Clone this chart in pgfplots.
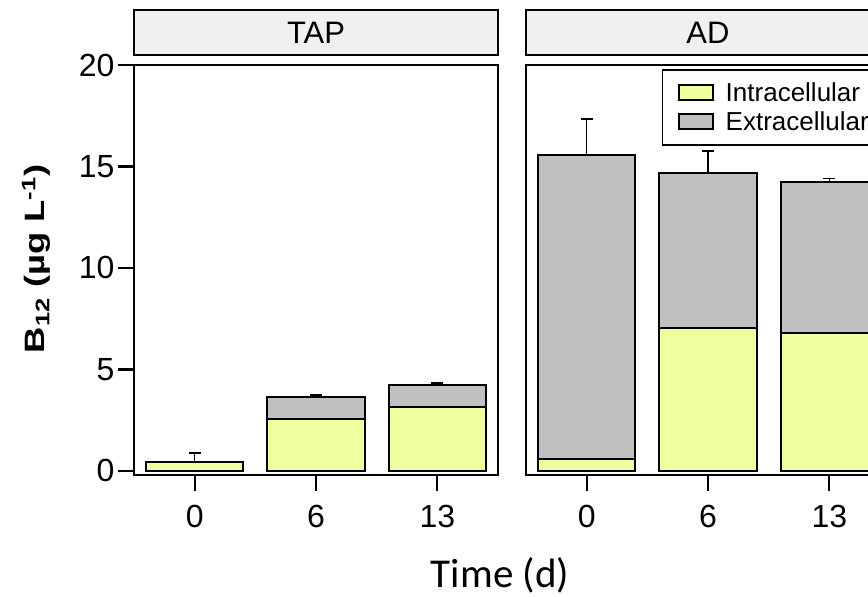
\documentclass[border=0pt]{standalone}
\usepackage{pgfplots}
\pgfplotsset{compat=1.18}
\usepackage{fontspec}
\setmainfont{Liberation Sans}
\newfontfamily\carlito{Carlito}
\definecolor{intra}{RGB}{240,255,160}
\definecolor{extra}{RGB}{192,192,192}
\definecolor{stripc}{RGB}{240,240,240}

\pgfplotsset{
  panel/.style={
    scale only axis, width=364pt, height=410pt,
    xmin=-0.5, xmax=2.5, ymin=-0.2, ymax=20,
    axis line style={line width=2.6pt},
    tick align=outside, major tick length=16pt,
    tick style={line width=2.2pt, black},
    xtick={0,1,2}, xticklabels={0,6,13},
    xtick pos=lower, ytick pos=left,
    /pgf/number format/assume math mode=true,
    ticklabel style={font=\fontsize{32}{38}\selectfont},
    xticklabel style={yshift=-11pt},
  },
  errs/.style={panel, hide axis},
  ebar/.style={black, mark=none, draw opacity=0, line width=1.6pt,
    error bars/.cd, y dir=plus, y explicit,
    error bar style={black, draw opacity=1, solid, line width=1.6pt},
    error mark options={rotate=90, black, draw opacity=1, solid, line width=1.6pt, mark size=6pt}},
}

\begin{document}
\begin{tikzpicture}
% ---------- TAP panel ----------
\begin{axis}[panel, at={(134pt,-475pt)}, anchor=south west,
  ybar stacked, bar width=0.8, ytick={0,5,10,15,20}]
\addplot[fill=intra, draw=black, line width=2pt] coordinates {(0,0.46) (1,2.55) (2,3.14)};
\addplot[fill=extra, draw=black, line width=2pt] coordinates {(0,0) (1,1.11) (2,1.10)};
\end{axis}
\begin{axis}[errs, at={(134pt,-475pt)}, anchor=south west]
\addplot[ebar]
  coordinates {(0,0.46) +- (0,0.42) (1,3.66) +- (0,0.08) (2,4.24) +- (0,0.08)};
\end{axis}
% ---------- AD panel ----------
\begin{axis}[panel, at={(526pt,-475pt)}, anchor=south west,
  ybar stacked, bar width=0.8, ytick=\empty,
  legend style={at={(0.3736,0.99)}, anchor=north west, draw=black, line width=1.5pt,
    font=\fontsize{26}{30}\selectfont, legend cell align=left,
    inner xsep=15pt, inner ysep=10pt, row sep=3pt},
  legend image code/.code={\draw[#1, line width=2pt] (0pt,-7.5pt) rectangle (34pt,7.5pt);
    \path (0pt,-12pt) (44pt,12pt);}]
\addplot[fill=intra, draw=black, line width=2pt] coordinates {(0,0.59) (1,7.03) (2,6.81)};
\addplot[fill=extra, draw=black, line width=2pt] coordinates {(0,14.99) (1,7.65) (2,7.44)};
\legend{Intracellular, Extracellular}
\end{axis}
\begin{axis}[errs, at={(526pt,-475pt)}, anchor=south west]
\addplot[ebar]
  coordinates {(0,15.58) +- (0,1.76) (1,14.68) +- (0,1.08) (2,14.25) +- (0,0.15)};
\end{axis}
% ---------- strip headers ----------
\draw[fill=stripc, line width=2.6pt] (134pt,-10pt) rectangle (498pt,-55pt);
\node[font=\fontsize{31}{36}\selectfont] at (316pt,-32.5pt) {TAP};
\draw[fill=stripc, line width=2.6pt] (526pt,-10pt) rectangle (890pt,-55pt);
\node[font=\fontsize{31}{36}\selectfont] at (708pt,-32.5pt) {AD};
% ---------- axis titles ----------
\node[rotate=90, font=\bfseries\fontsize{28}{34}\selectfont] at (36pt,-259pt)
  {\scalebox{1.3}[1]{B\textsubscript{12} (µg L\textsuperscript{-1})}};
\node[font=\carlito\fontsize{41}{48}\selectfont] at (500pt,-575pt) {Time (d)};
% ---------- crop ----------
\pgfresetboundingbox
\useasboundingbox (0pt,0pt) rectangle (868pt,-597pt);
\end{tikzpicture}
\end{document}
